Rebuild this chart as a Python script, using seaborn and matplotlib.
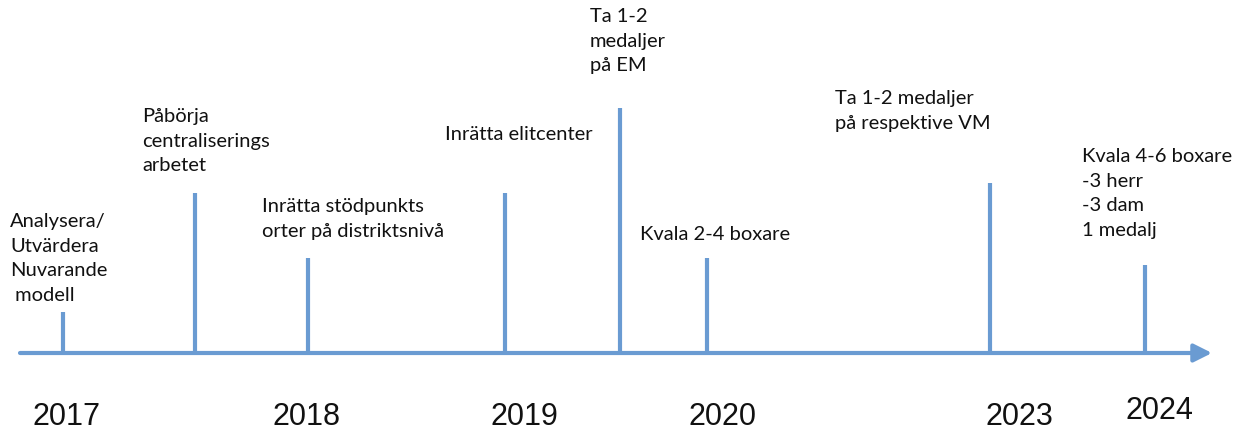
import numpy as np
import seaborn as sns
import matplotlib.pyplot as plt

# timeline data: position along the axis and stem height above the baseline
event_pos = [63, 195, 308, 505, 620, 707, 990, 1145]
event_height = [41, 160, 95, 160, 245, 95, 170, 88]
event_text = [
    "Analysera/\nUtvärdera\nNuvarande\n modell",
    "Påbörja\ncentraliserings\narbetet",
    "Inrätta stödpunkts\norter på distriktsnivå",
    "Inrätta elitcenter",
    "Ta 1-2\nmedaljer\npå EM",
    "Kvala 2-4 boxare",
    "Ta 1-2 medaljer\npå respektive VM",
    "Kvala 4-6 boxare\n-3 herr\n-3 dam\n1 medalj",
]
year_labels = ["2017", "2018", "2019", "2020", "2023", "2024"]
year_pos = [67, 307, 524, 723, 1019, 1159]

# layout (label anchor: left x, top y)
label_xy = [(10, 219), (142, 324), (262, 234), (445, 306), (590, 424), (640, 206), (835, 342), (1082, 284)]
year_y = [15, 15, 15, 15, 15, 21]
base_y = 79
line_col = "#6a9bd2"

sns.set_theme(style="white")
plt.rcParams["font.family"] = ["Lato", "DejaVu Sans"]

fig = plt.figure(figsize=(12.35, 4.32), dpi=100)
ax = fig.add_axes([0, 0, 1, 1])
ax.set_xlim(0, 1235)
ax.set_ylim(0, 432)
ax.axis("off")

# baseline with arrow
ax.annotate("", xy=(1212, base_y), xytext=(20, base_y),
            arrowprops=dict(arrowstyle="-|>,head_length=0.9,head_width=0.45",
                            color=line_col, lw=3, shrinkA=0, shrinkB=0))

ax.vlines(event_pos, base_y, base_y + np.array(event_height), color=line_col, lw=3)

for txt, (lx, ly) in zip(event_text, label_xy):
    ax.text(lx, ly, txt, ha="left", va="top", fontsize=14.5, linespacing=1.55, color="#111111")

for yr, x, y in zip(year_labels, year_pos, year_y):
    ax.text(x, y, yr, ha="center", va="center", fontsize=22,
            family=["Liberation Sans", "DejaVu Sans"], color="#111111")

fig.savefig("out.png", dpi=100)
